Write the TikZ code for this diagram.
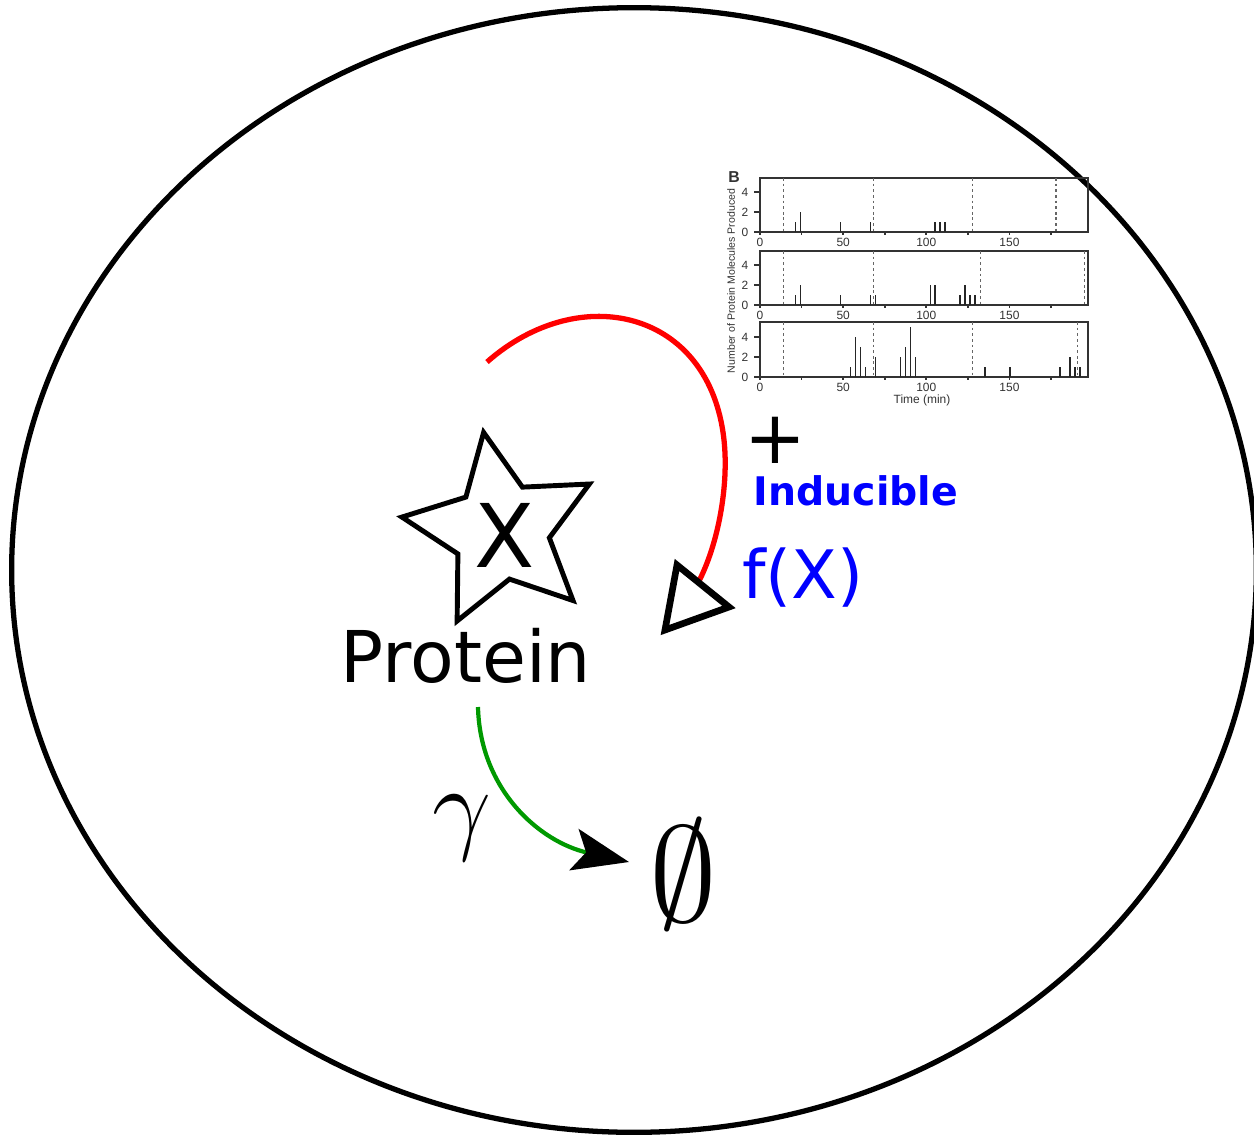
\documentclass[tikz,border=0pt]{standalone}
\usepackage{fontspec}
\setmainfont{DejaVu Sans}
\newfontfamily\policeGraphe{Liberation Sans}
\usetikzlibrary{shapes.geometric,arrows.meta}
\begin{document}
\begin{tikzpicture}[x=0.01cm,y=-0.01cm]
	% Styles
	\tikzstyle{cellule}=[line width=1.5pt]
	\tikzstyle{etiquette}=[inner sep=0pt]
	\tikzstyle{etoile}=[draw,star,star points=5,star point ratio=2.05,minimum size=2cm,inner sep=0pt,line width=1.4pt,shape border rotate=10]
	\tikzstyle{induction}=[red,line width=1.5pt]
	\tikzstyle{tete}=[line width=1.9pt,line join=miter]
	\tikzstyle{degradation}=[green!60!black,line width=1.2pt,-{Stealth[color=black,length=16pt,width=12pt,inset=3.5pt]}]
	\tikzstyle{cadre}=[line width=0.5pt,black!80]
	\tikzstyle{barre}=[line width=0.45pt,black!85]
	\tikzstyle{pointille}=[dash pattern=on 0.8pt off 0.8pt,line width=0.3pt,black!60]
	\tikzstyle{graduation}=[font=\policeGraphe\fontsize{3.4}{4}\selectfont,text=black!80,inner sep=0pt]
	% Dimensions du graphe
	\def\Gauche{760}
	\def\Droite{1088}
	\def\Echelle{1.663}
	\def\Unite{10}
	\def\BaseA{232}
	\def\BaseB{305}
	\def\BaseC{377}
	%
	\useasboundingbox (0,0) rectangle (1254,1136);
	\draw[cellule] (634,570) ellipse [x radius=6.22cm, y radius=5.62cm];
	% Graphe (cadres, axes)
	\foreach \p/\base/\haut in {a/\BaseA/178,b/\BaseB/251,c/\BaseC/322}{
		\draw[cadre] (\Gauche,\haut) rectangle (\Droite,\base);
		\foreach \tps in {0,25,...,175}
			\draw[cadre] ({\Gauche+\Echelle*\tps},\base) -- ++(0,3);
		\foreach \tps in {0,50,100,150}
			\node[graduation] (g\p\tps) at ({\Gauche+\Echelle*\tps},\base+10) {\tps};
		\foreach \nb in {0,2,4}{
			\draw[cadre] (\Gauche,{\base-\Unite*\nb}) -- ++(-6,0);
			\node[graduation,anchor=east] (o\p\nb) at (\Gauche-11,{\base-\Unite*\nb}) {\nb};
		}
	}
	% Graphe (instants et barres)
	\foreach \tps in {14.4,68,127.6,178}
		\draw[pointille] ({\Gauche+\Echelle*\tps},178) -- ({\Gauche+\Echelle*\tps},\BaseA);
	\foreach \tps/\nb in {21.4/1,24.4/2,48.4/1,66.4/1,105.4/1,108.4/1,111.4/1}
		\draw[barre] ({\Gauche+\Echelle*\tps},\BaseA) -- ++(0,{-\Unite*\nb});
	\foreach \tps in {14.4,68,132.6,195.4}
		\draw[pointille] ({\Gauche+\Echelle*\tps},251) -- ({\Gauche+\Echelle*\tps},\BaseB);
	\foreach \tps/\nb in {21.4/1,24.4/2,48.4/1,66.4/1,69.4/1,102.4/2,105.4/2,120.4/1,123.4/2,126.4/1,129.4/1}
		\draw[barre] ({\Gauche+\Echelle*\tps},\BaseB) -- ++(0,{-\Unite*\nb});
	\foreach \tps in {14.4,68,128,191}
		\draw[pointille] ({\Gauche+\Echelle*\tps},322) -- ({\Gauche+\Echelle*\tps},\BaseC);
	\foreach \tps/\nb in {54.4/1,57.4/4,60.4/3,63.4/1,69.4/2,84.4/2,87.4/3,90.4/5,93.4/2,135.4/1,150.4/1,180.4/1,186.4/2,189.4/1,192.4/1}
		\draw[barre] ({\Gauche+\Echelle*\tps},\BaseC) -- ++(0,{-\Unite*\nb});
	\node[graduation,font=\policeGraphe\bfseries\fontsize{4.5}{5}\selectfont] (lettreB) at (734,177) {B};
	\node[graduation,rotate=90,font=\policeGraphe\fontsize{3}{3.5}\selectfont] (titreY) at (731,281) {Number of Protein Molecules Produced};
	\node[graduation] (titreX) at (922,400) {Time (min)};
	% Noeuds
	\node[etoile] (etoile) at (501,531) {};
	\node[etiquette,font=\fontsize{25}{30}\selectfont] (X) at (505,535) {X};
	\node[font=\fontsize{20.3}{24}\selectfont] (Protein) at (466,656) {Protein};
	\node[etiquette,font=\fontsize{21}{24}\selectfont] (plus) at (775,440) {+};
	\node[etiquette,blue,font=\bfseries\fontsize{11.2}{14}\selectfont] (Inducible) at (856,491) {Inducible};
	\node[etiquette,blue,font=\fontsize{19}{22}\selectfont] (fX) at (803,578) {f(X)};
	\node[etiquette,font=\Huge,scale=1.2] (gamma) at (462,828) {$\gamma$};
	\node[etiquette,font=\Huge,scale=1.55] (vide) at (683,874) {$\emptyset$};
	\coordinate (rdeb) at (487,362);
	\coordinate (rfin) at (698,583);
	\coordinate (gdeb) at (478,707);
	\coordinate (pointe) at (629,862);
	% Arcs
	\draw[induction] (rdeb) .. controls (580,280) and (710,310) .. (724,440) .. controls (729,486) and (718,545) .. (rfin);
	\draw[tete] (677,565) -- (665,630) -- (729,607) -- cycle;
	\draw[degradation] (gdeb) .. controls (480,790) and (540,842) .. (pointe);
\end{tikzpicture}
\end{document}
